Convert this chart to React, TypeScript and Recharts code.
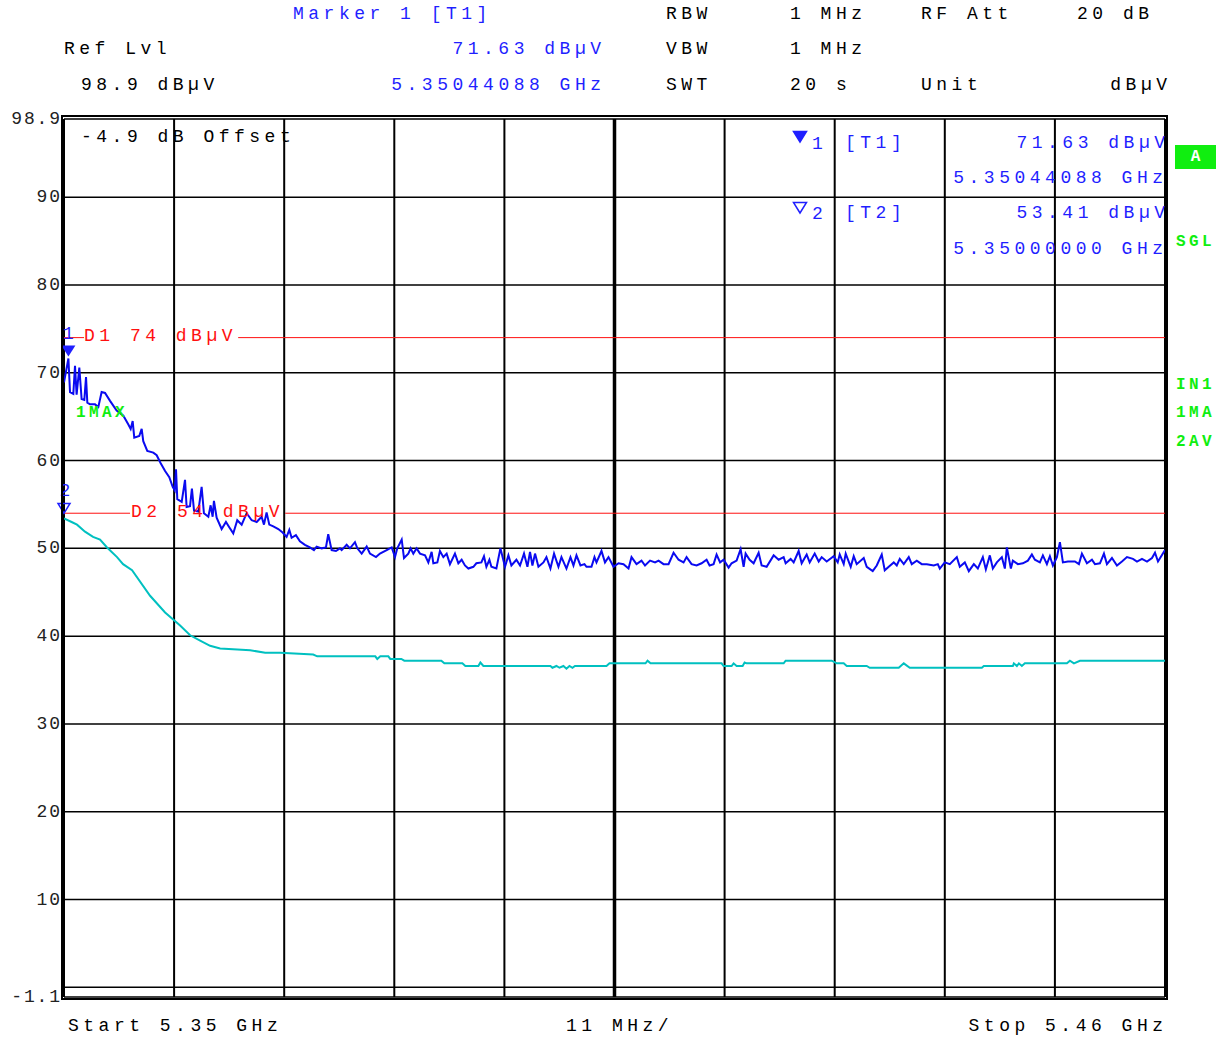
import React from "react";
import {
  CartesianGrid,
  Line,
  LineChart,
  ReferenceDot,
  ReferenceLine,
  XAxis,
  YAxis,
} from "recharts";

// trace 1 (max hold), MHz / dBµV
const maxFreq = [
  5350.0, 5350.44, 5350.6, 5350.93, 5351.1, 5351.26, 5351.53, 5351.76, 5352.03, 5352.2,
  5352.33, 5352.6, 5353.1, 5353.43, 5353.76, 5354.1, 5354.6, 5355.26, 5355.93, 5356.43,
  5356.66, 5356.86, 5357.02, 5357.52, 5357.76, 5357.92, 5358.32, 5358.92, 5359.26, 5359.66,
  5360.1, 5360.52, 5360.86, 5361.06, 5361.19, 5361.32, 5361.76, 5362.09, 5362.25, 5362.59,
  5362.78, 5362.99, 5363.42, 5363.75, 5363.98, 5364.42, 5364.65, 5364.85, 5364.98, 5365.25,
  5365.75, 5366.18, 5366.51, 5366.91, 5367.31, 5367.75, 5368.25, 5368.75, 5369.25, 5369.74,
  5369.98, 5370.24, 5370.51, 5370.91, 5371.41, 5371.84, 5372.24, 5372.51, 5372.74, 5373.17,
  5373.57, 5374.07, 5374.57, 5374.97, 5375.24, 5375.74, 5376.17, 5376.4, 5376.74, 5377.17,
  5377.57, 5377.74, 5378.24, 5378.57, 5379.07, 5379.31, 5379.74, 5380.24, 5380.57, 5381.17,
  5381.57, 5382.24, 5382.74, 5383.07, 5383.3, 5383.74, 5383.97, 5384.4, 5384.63, 5384.9,
  5385.23, 5385.57, 5386.07, 5386.4, 5386.73, 5386.9, 5387.3, 5387.56, 5387.9, 5388.23,
  5388.56, 5389.06, 5389.4, 5389.73, 5390.06, 5390.4, 5390.9, 5391.2, 5391.7, 5391.96,
  5392.2, 5392.5, 5392.7, 5393.2, 5393.6, 5394.06, 5394.4, 5394.7, 5395.2, 5395.56,
  5395.96, 5396.3, 5396.56, 5396.8, 5397.06, 5397.4, 5397.9, 5398.2, 5398.6, 5398.96,
  5399.4, 5399.7, 5400.2, 5400.6, 5400.9, 5401.2, 5401.6, 5402.0, 5402.2, 5402.7,
  5403.0, 5403.2, 5403.7, 5404.05, 5404.4, 5404.9, 5405.4, 5405.9, 5406.4, 5406.7,
  5407.2, 5407.7, 5408.05, 5408.55, 5409.05, 5409.4, 5409.9, 5410.4, 5410.9, 5411.4,
  5411.9, 5412.2, 5412.7, 5413.2, 5413.7, 5414.2, 5414.5, 5414.9, 5415.2, 5415.55,
  5415.9, 5416.4, 5416.7, 5417.2, 5417.6, 5417.9, 5418.1, 5418.5, 5418.9, 5419.4,
  5419.7, 5420.2, 5420.9, 5421.4, 5421.9, 5422.1, 5422.6, 5422.9, 5423.4, 5423.7,
  5424.2, 5424.5, 5425.0, 5425.4, 5425.7, 5426.2, 5426.9, 5427.3, 5427.5, 5427.9,
  5428.1, 5428.6, 5428.9, 5429.2, 5429.9, 5430.2, 5430.8, 5431.2, 5431.7, 5432.0,
  5432.4, 5432.9, 5433.2, 5433.5, 5433.9, 5434.4, 5434.7, 5435.2, 5435.7, 5436.2,
  5436.9, 5437.3, 5437.5, 5438.0, 5438.5, 5439.2, 5439.5, 5440.0, 5440.4, 5440.9,
  5441.3, 5441.8, 5442.1, 5442.5, 5442.8, 5443.2, 5443.7, 5444.0, 5444.2, 5444.6,
  5444.8, 5445.3, 5445.8, 5446.3, 5446.7, 5447.0, 5447.5, 5447.8, 5448.2, 5448.5,
  5448.8, 5449.2, 5449.5, 5449.8, 5450.3, 5451.0, 5451.4, 5451.7, 5452.2, 5452.7,
  5453.0, 5453.5, 5453.9, 5454.2, 5454.7, 5455.2, 5455.7, 5456.2, 5456.8, 5457.2,
  5457.7, 5458.2, 5458.7, 5459.0, 5459.3, 5460.0,
];
const maxLevel = [
  68.9, 71.63, 67.8, 67.6, 70.8, 67.5, 70.6, 67.0, 66.9, 69.5,
  66.6, 66.4, 66.4, 66.1, 67.8, 67.7, 66.8, 65.7, 65.1, 64.1,
  63.6, 64.5, 62.6, 62.8, 63.6, 62.2, 61.1, 60.9, 60.6, 59.7,
  58.8, 58.1, 57.0, 56.6, 59.0, 55.6, 55.3, 57.8, 54.7, 54.8,
  56.8, 54.3, 54.2, 57.0, 54.0, 53.6, 54.9, 53.6, 55.4, 53.5,
  52.2, 53.0, 52.4, 51.7, 53.2, 52.7, 54.0, 53.2, 53.0, 53.6,
  52.7, 54.1, 52.7, 52.5, 52.2, 51.8, 51.3, 52.1, 51.2, 51.5,
  50.8, 50.4, 50.1, 49.8, 50.2, 50.0, 50.1, 51.6, 49.8, 49.7,
  50.0, 49.8, 50.4, 50.0, 50.7, 50.0, 49.4, 50.2, 49.4, 49.0,
  49.4, 49.8, 50.1, 49.0, 50.0, 51.0, 48.9, 49.4, 50.0, 49.4,
  50.0, 49.4, 49.2, 48.4, 49.6, 48.3, 48.4, 49.7, 49.0, 49.4,
  48.2, 49.4, 48.3, 48.7, 48.05, 47.7, 47.9, 48.3, 48.4, 49.1,
  47.9, 48.7, 47.9, 47.7, 50.0, 47.9, 49.2, 48.05, 48.7, 48.05,
  49.4, 47.9, 49.6, 48.05, 49.4, 47.9, 48.4, 49.0, 47.7, 49.4,
  47.9, 49.0, 47.7, 49.0, 48.05, 49.2, 48.05, 48.2, 47.9, 47.9,
  49.0, 48.4, 49.7, 48.4, 49.0, 47.9, 48.3, 48.2, 47.7, 49.0,
  48.2, 48.6, 48.05, 48.6, 48.4, 48.6, 48.2, 48.2, 49.5, 48.7,
  48.4, 49.0, 48.2, 48.05, 48.3, 48.7, 48.05, 48.2, 49.3, 48.4,
  48.7, 47.8, 48.3, 48.6, 49.9, 47.9, 49.4, 48.7, 48.3, 49.5,
  48.05, 47.9, 49.2, 48.7, 49.0, 48.3, 48.8, 48.4, 49.7, 48.3,
  49.3, 48.4, 49.4, 48.5, 49.0, 48.5, 49.1, 48.4, 49.3, 48.2,
  49.4, 47.9, 49.1, 48.2, 48.9, 47.9, 47.4, 48.05, 49.3, 47.5,
  47.9, 48.4, 48.05, 48.8, 48.2, 49.0, 48.2, 48.6, 48.2, 48.2,
  48.05, 48.2, 47.7, 48.4, 48.2, 49.0, 47.9, 48.4, 47.4, 48.2,
  47.7, 49.0, 47.6, 49.2, 47.7, 48.4, 49.0, 47.7, 50.1, 47.7,
  48.6, 48.2, 48.3, 48.6, 49.3, 48.7, 48.4, 49.2, 48.2, 49.1,
  48.05, 49.0, 50.7, 48.4, 48.5, 48.5, 48.2, 49.4, 48.3, 48.7,
  48.2, 48.3, 49.4, 48.2, 48.9, 48.05, 48.5, 49.0, 48.8, 48.5,
  48.8, 48.5, 48.9, 49.5, 48.5, 49.8,
];

// trace 2 (average)
const avgFreq = [
  5350.0, 5350.76, 5351.3, 5352.1, 5352.9, 5353.6, 5354.3, 5355.3, 5355.9, 5356.8,
  5358.6, 5360.1, 5361.6, 5362.6, 5363.6, 5364.6, 5365.6, 5368.6, 5370.1, 5371.6,
  5374.9, 5375.3, 5381.1, 5381.3, 5381.6, 5382.4, 5382.6, 5383.7, 5384.0, 5387.7,
  5388.0, 5389.8, 5390.1, 5391.4, 5391.6, 5391.9, 5398.6, 5398.8, 5399.2, 5399.5,
  5399.9, 5400.2, 5400.5, 5400.8, 5401.05, 5404.2, 5404.5, 5408.1, 5408.3, 5408.6,
  5415.7, 5415.9, 5416.7, 5416.9, 5417.2, 5417.8, 5418.0, 5418.2, 5421.9, 5422.1,
  5426.7, 5427.2, 5427.9, 5428.2, 5430.2, 5430.5, 5433.4, 5433.9, 5434.5, 5441.7,
  5441.9, 5444.8, 5444.9, 5445.2, 5445.4, 5445.7, 5446.0, 5450.2, 5450.5, 5450.9,
  5451.5, 5460.0,
];
const avgLevel = [
  53.41, 53.0, 52.7, 51.9, 51.3, 51.0, 50.1, 49.0, 48.2, 47.5,
  44.6, 42.7, 41.2, 40.1, 39.5, 38.9, 38.6, 38.4, 38.1, 38.1,
  37.9, 37.7, 37.7, 37.4, 37.7, 37.7, 37.4, 37.4, 37.2, 37.2,
  36.9, 36.9, 36.6, 36.6, 37.0, 36.6, 36.6, 36.4, 36.6, 36.4,
  36.6, 36.3, 36.6, 36.4, 36.6, 36.6, 36.9, 36.9, 37.2, 36.9,
  36.9, 36.6, 36.6, 36.9, 36.6, 36.6, 37.0, 36.9, 36.9, 37.2,
  37.2, 36.9, 36.9, 36.6, 36.6, 36.4, 36.4, 36.9, 36.4, 36.4,
  36.6, 36.6, 36.9, 36.6, 36.9, 36.6, 36.9, 36.9, 37.2, 36.9,
  37.2, 37.2,
];

const freqTicks = [5350, 5361, 5372, 5383, 5394, 5405, 5416, 5427, 5438, 5449, 5460];
const levelTicks = [-1.1, 0, 10, 20, 30, 40, 50, 60, 70, 80, 90, 98.9];
const levelLabels = ["-1.1", "", "10", "20", "30", "40", "50", "60", "70", "80", "90", "98.9"];

const maxData = maxFreq.map((f, i) => ({ f, v: maxLevel[i] }));
const avgData = avgFreq.map((f, i) => ({ f, v: avgLevel[i] }));

const MONO = "'Liberation Mono', 'Courier New', monospace";
const BLUE = "#1f1fff";
const RED = "#ff1010";
const GREEN = "#10ee10";
const SP = 4.5;

function T({
  x,
  y,
  children,
  color = "#000",
  end = false,
  size = 18,
  spacing = SP,
  bold = false,
}: {
  x: number;
  y: number;
  children: React.ReactNode;
  color?: string;
  end?: boolean;
  size?: number;
  spacing?: number;
  bold?: boolean;
}) {
  const pos: React.CSSProperties = end
    ? { right: 1224 - x - spacing }
    : { left: x };
  return (
    <div
      style={{
        position: "absolute",
        top: y,
        transform: "translateY(-50%)",
        lineHeight: 1,
        fontFamily: MONO,
        fontSize: size,
        letterSpacing: spacing,
        fontWeight: bold ? 700 : 400,
        color,
        whiteSpace: "pre",
        ...pos,
      }}
    >
      {children}
    </div>
  );
}

function LevelTick(props: any) {
  const { x, y, payload } = props;
  const i = levelTicks.indexOf(payload.value);
  const label = levelLabels[i];
  if (!label) return <g />;
  return (
    <text
      x={x}
      y={y}
      textAnchor="end"
      dominantBaseline="central"
      fontFamily={MONO}
      fontSize={18}
      letterSpacing={1.9}
      fill="#222"
    >
      {label}
    </text>
  );
}

function Marker1(props: any) {
  const { cx, cy } = props;
  return (
    <g>
      <polygon
        points={`${cx - 7},${cy - 13} ${cx + 7},${cy - 13} ${cx},${cy - 2}`}
        fill={BLUE}
      />
      <text x={cx} y={cy - 24} textAnchor="middle" dominantBaseline="central" fontFamily={MONO} fontSize={18} fill={BLUE}>
        1
      </text>
    </g>
  );
}

function Marker2(props: any) {
  const { cx, cy } = props;
  return (
    <g>
      <polygon
        points={`${cx - 6},${cy - 15} ${cx + 6},${cy - 15} ${cx},${cy - 5}`}
        fill="none"
        stroke={BLUE}
        strokeWidth={1.5}
      />
      <text x={cx + 1} y={cy - 27} textAnchor="middle" dominantBaseline="central" fontFamily={MONO} fontSize={18} fill={BLUE}>
        2
      </text>
    </g>
  );
}

function Tri({ x, y, filled }: { x: number; y: number; filled: boolean }) {
  return (
    <svg
      width={16}
      height={14}
      style={{ position: "absolute", left: x, top: y }}
    >
      <polygon
        points="1.5,1.5 14.5,1.5 8,12"
        fill={filled ? BLUE : "none"}
        stroke={BLUE}
        strokeWidth={1.5}
      />
    </svg>
  );
}

export default function App() {
  return (
    <div
      style={{
        position: "absolute",
        left: 0,
        top: 0,
        width: 1224,
        height: 1038,
        background: "#fff",
        overflow: "hidden",
      }}
    >
      {/* header */}
      <T x={293} y={14} color={BLUE}>Marker 1 [T1]</T>
      <T x={666} y={14}>RBW</T>
      <T x={790} y={14}>1 MHz</T>
      <T x={921} y={14}>RF Att</T>
      <T x={1077} y={14}>20 dB</T>
      <T x={64} y={49}>Ref Lvl</T>
      <T x={601} y={49} end color={BLUE}>71.63 dBµV</T>
      <T x={666} y={49}>VBW</T>
      <T x={790} y={49}>1 MHz</T>
      <T x={81} y={85}>98.9 dBµV</T>
      <T x={601} y={85} end color={BLUE}>5.35044088 GHz</T>
      <T x={666} y={85}>SWT</T>
      <T x={790} y={85}>20 s</T>
      <T x={921} y={85}>Unit</T>
      <T x={1167} y={85} end>dBµV</T>

      <LineChart
        width={1224}
        height={1038}
        margin={{ top: 119, right: 59, bottom: 41, left: 4 }}
        style={{ position: "absolute", left: 0, top: 0 }}
      >
        <CartesianGrid vertical={false} stroke="#000" strokeWidth={1.5} strokeOpacity={1} />
        <CartesianGrid horizontal={false} stroke="#000" strokeWidth={2} strokeOpacity={1} />
        <XAxis
          type="number"
          dataKey="f"
          domain={[5350, 5460]}
          ticks={freqTicks}
          allowDataOverflow
          hide
        />
        <YAxis
          type="number"
          domain={[-1.1, 98.9]}
          ticks={levelTicks}
          interval={0}
          width={60}
          axisLine={false}
          tickLine={false}
          tickSize={0}
          tickMargin={2}
          tick={<LevelTick />}
          allowDataOverflow
        />
        <ReferenceLine x={5405} stroke="#000" strokeWidth={3.5} />
        <ReferenceLine
          segment={[{ x: 5350, y: 74 }, { x: 5352, y: 74 }]}
          stroke={RED}
          strokeWidth={1}
        />
        <ReferenceLine
          segment={[{ x: 5367.4, y: 74 }, { x: 5460, y: 74 }]}
          stroke={RED}
          strokeWidth={1}
        />
        <ReferenceLine
          segment={[{ x: 5350, y: 54 }, { x: 5356.6, y: 54 }]}
          stroke={RED}
          strokeWidth={1}
        />
        <ReferenceLine
          segment={[{ x: 5372.1, y: 54 }, { x: 5460, y: 54 }]}
          stroke={RED}
          strokeWidth={1}
        />
        <Line
          data={avgData}
          dataKey="v"
          type="linear"
          stroke="#00c0c0"
          strokeWidth={2}
          dot={false}
          isAnimationActive={false}
        />
        <Line
          data={maxData}
          dataKey="v"
          type="linear"
          stroke="#0a0af0"
          strokeWidth={2}
          dot={false}
          isAnimationActive={false}
        />
        <ReferenceDot x={5350.44} y={71.63} r={0} shape={<Marker1 />} />
        <ReferenceDot x={5350} y={53.41} r={0} shape={<Marker2 />} />
      </LineChart>

      {/* outer frame */}
      <div
        style={{
          position: "absolute",
          left: 61,
          top: 115,
          width: 1107,
          height: 885,
          border: "2px solid #000",
          boxSizing: "border-box",
          pointerEvents: "none",
        }}
      />

      {/* in-plot annotations */}
      <T x={81} y={137}>-4.9 dB Offset</T>
      <T x={84} y={336} color={RED}>D1 74 dBµV</T>
      <T x={131} y={512} color={RED}>D2 54 dBµV</T>
      <T x={76} y={413} color={GREEN} bold size={16} spacing={3.4}>1MAX</T>

      <Tri x={792} y={130} filled />
      <T x={812} y={144} color={BLUE}>1</T>
      <T x={845} y={143} color={BLUE}>[T1]</T>
      <T x={1165} y={143} end color={BLUE}>71.63 dBµV</T>
      <T x={1163} y={178} end color={BLUE}>5.35044088 GHz</T>
      <Tri x={792} y={201} filled={false} />
      <T x={812} y={214} color={BLUE}>2</T>
      <T x={845} y={213} color={BLUE}>[T2]</T>
      <T x={1165} y={213} end color={BLUE}>53.41 dBµV</T>
      <T x={1163} y={249} end color={BLUE}>5.35000000 GHz</T>

      {/* right status column */}
      <div
        style={{
          position: "absolute",
          left: 1175,
          top: 145,
          width: 41,
          height: 24,
          background: GREEN,
          color: "#fff",
          fontFamily: MONO,
          fontWeight: 700,
          fontSize: 16,
          lineHeight: "24px",
          textAlign: "center",
        }}
      >
        A
      </div>
      <T x={1176} y={242} color={GREEN} bold size={16} spacing={3.4}>SGL</T>
      <T x={1176} y={385} color={GREEN} bold size={16} spacing={3.4}>IN1</T>
      <T x={1176} y={413} color={GREEN} bold size={16} spacing={3.4}>1MA</T>
      <T x={1176} y={442} color={GREEN} bold size={16} spacing={3.4}>2AV</T>

      {/* footer */}
      <T x={68} y={1026}>Start 5.35 GHz</T>
      <T x={566} y={1026}>11 MHz/</T>
      <T x={1163} y={1026} end>Stop 5.46 GHz</T>
    </div>
  );
}
